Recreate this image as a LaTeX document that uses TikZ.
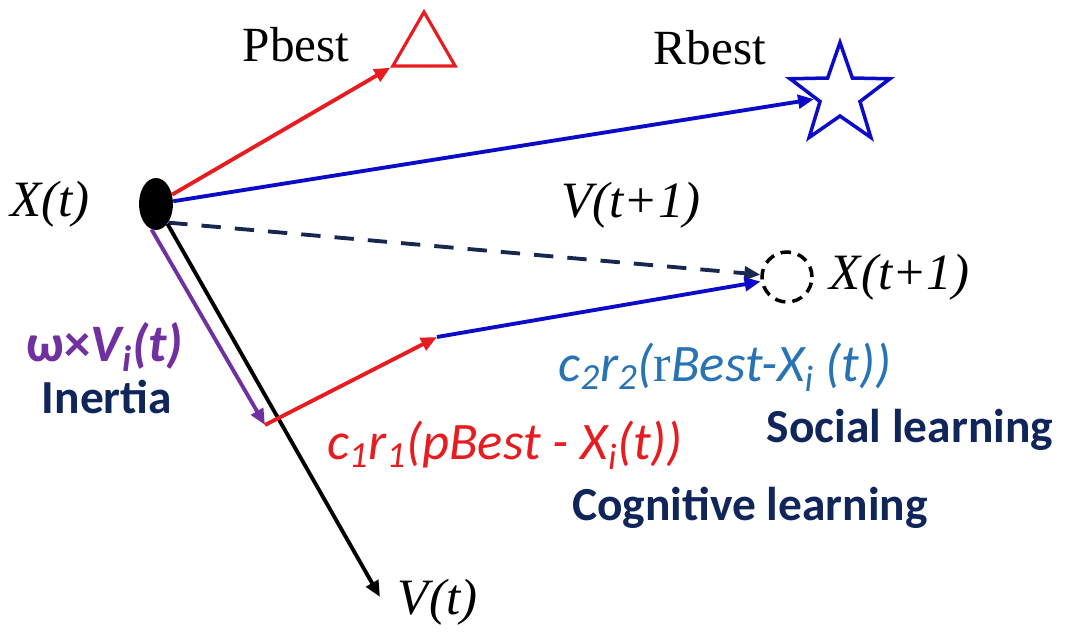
\documentclass[tikz,border=0pt]{standalone}
\usepackage{fontspec}
\setmainfont{Liberation Serif}
\newfontfamily\calibri{Carlito}
\usetikzlibrary{arrows.meta, positioning, shapes.geometric}

\definecolor{pred}{RGB}{230,28,32}
\definecolor{pblue}{RGB}{12,12,200}
\definecolor{pnavy}{RGB}{22,40,78}
\definecolor{ppurple}{RGB}{112,48,160}
\definecolor{psteel}{RGB}{40,115,180}
\definecolor{ptext}{RGB}{16,38,90}

\begin{document}
\begin{tikzpicture}[x=0.02cm, y=-0.02cm,
  vec/.style={line width=2.2pt, -{Triangle[length=3.2mm, width=2.7mm]}},
  serif/.style={font=\fontsize{29}{34}\selectfont\itshape, inner sep=0pt},
  best/.style={font=\fontsize{28}{33}\selectfont, inner sep=0pt},
  eq/.style={font=\calibri\fontsize{30}{34}\selectfont\itshape, inner sep=0pt},
  term/.style={font=\calibri\bfseries\fontsize{27}{32}\selectfont, text=ptext, inner sep=0pt},
  dot/.style={ellipse, fill=black, minimum width=0.68cm, minimum height=1.04cm, inner sep=0pt},
  tri/.style={regular polygon, regular polygon sides=3, draw=pred, line width=1.8pt, minimum size=1.44cm, inner sep=0pt},
  star5/.style={star, star points=5, star point ratio=2.5, draw=pblue, line width=2pt, minimum size=2.1cm, inner sep=0pt},
  ring/.style={circle, draw=black, line width=2pt, dash pattern=on 6pt off 4pt, minimum size=1cm, inner sep=0pt},
]
\useasboundingbox (0,0) rectangle (1075,632);

\node[dot] (xt) at (156,204) {};
\node[serif] (xtl) at (50,204) {X(t)};
\node[tri] (pb) at (424,48) {};
\node[best] (pbl) at (296,45) {Pbest};
\node[star5] (rb) at (840,95) {};
\node[best] (rbl) at (710,48) {Rbest};
\node[ring] (xn) at (787,277) {};
\node[serif, right=9pt of xn] (xnl) {X(t+1)};
\node[serif] (vnl) at (631,205) {V(t+1)};
\coordinate (vend) at (380,597);
\node[serif, right=10pt of vend, yshift=-3pt] (vtl) {V(t)};
\coordinate (pend) at (265,425);
\coordinate (cend) at (437,337);

\draw[vec, pred] (xt) -- (pb);
\draw[vec, pblue] (xt) -- (rb);
\draw[vec, pnavy, dash pattern=on 11pt off 8pt] (xt.south east) -- (xn);
\draw[vec, black] (xt.-60) -- (vend);
\draw[vec, ppurple] (xt.-100) -- (pend);
\draw[vec, pred] (pend) -- (cend);
\draw[vec, pblue] (cend) -- (xn);

\node[eq, text=ppurple, font=\calibri\bfseries\fontsize{30}{34}\selectfont] (wl) at (105,347) {ω×\textit{V\textsubscript{i}(t)}};
\node[term] (inl) at (107,397) {Inertia};
\node[eq, text=pred] (c1l) at (505,445) {c\textsubscript{1}r\textsubscript{1}(pBest - X\textsubscript{i}(t))};
\node[eq, text=psteel] (c2l) at (725,367) {c\textsubscript{2}r\textsubscript{2}({\rmfamily\upshape r}Best-X\textsubscript{i} (t))};
\node[term] (sol) at (910,430) {Social learning};
\node[term] (col) at (750,508) {Cognitive learning};
\end{tikzpicture}
\end{document}
